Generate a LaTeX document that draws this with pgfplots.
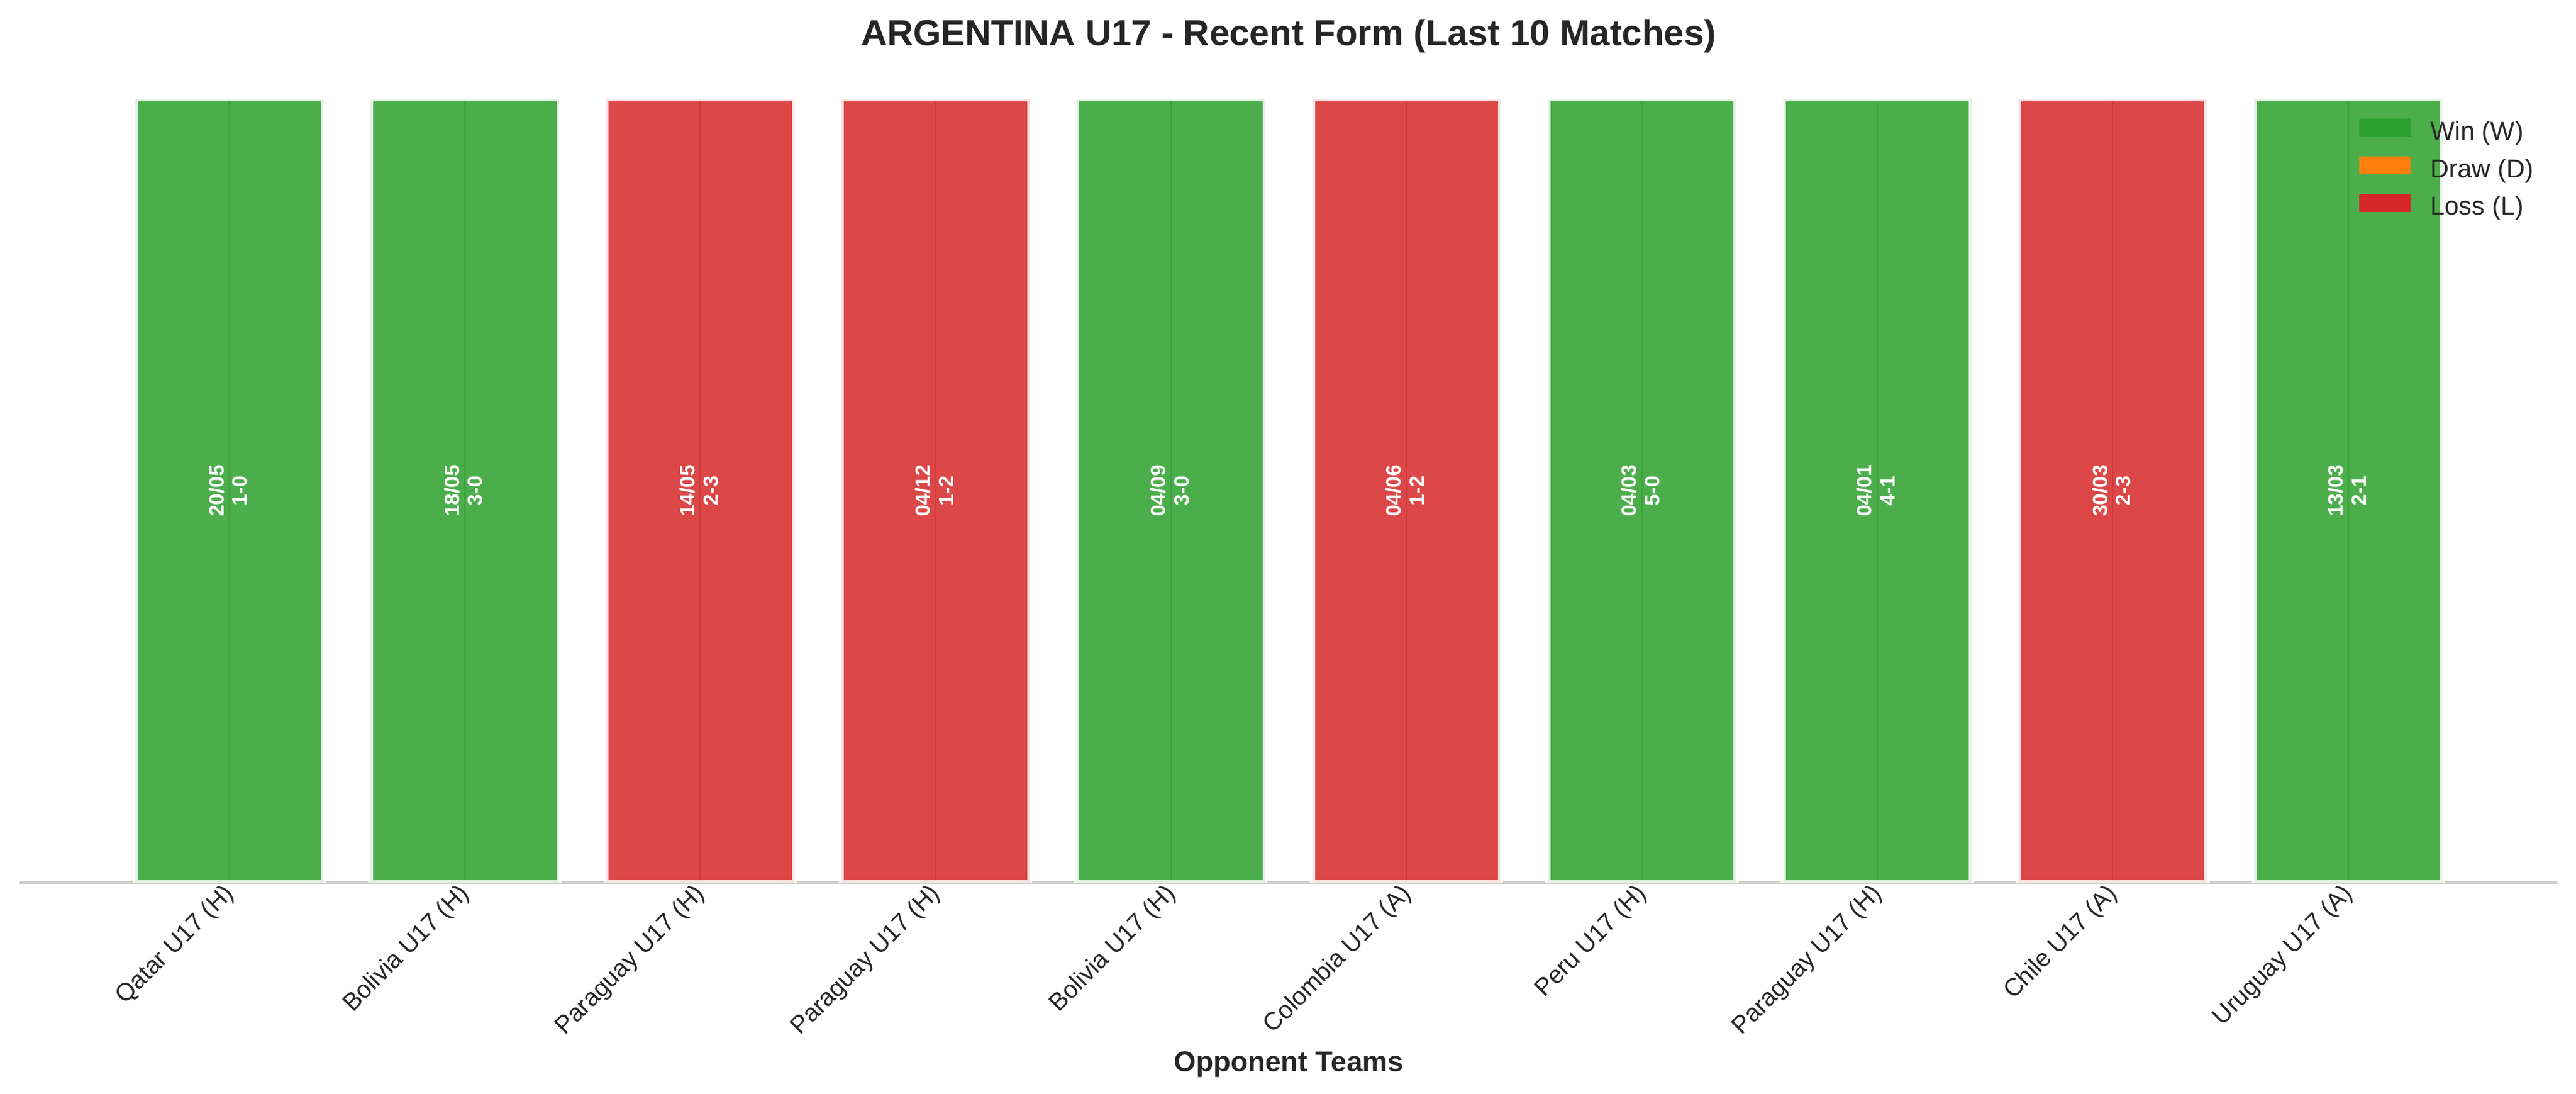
\documentclass[border=0pt]{standalone}
\usepackage{pgfplots}
\pgfplotsset{compat=1.18}
\usepackage{pgfplotstable}
\usepackage{fontspec}
\setmainfont{Liberation Sans}
\definecolor{winc}{HTML}{2CA02C}
\definecolor{drawc}{HTML}{FF7F0E}
\definecolor{lossc}{HTML}{D62728}
\definecolor{txt}{HTML}{262626}
\pgfplotstableread{
x y
0 1
1 1
4 1
6 1
7 1
9 1
}\wins
\pgfplotstableread{
x y
2 1
3 1
5 1
8 1
}\losses
\pgfplotstableread{
x y date score
0 0.5 20/05 1-0
1 0.5 18/05 3-0
2 0.5 14/05 2-3
3 0.5 04/12 1-2
4 0.5 04/09 3-0
5 0.5 04/06 1-2
6 0.5 04/03 5-0
7 0.5 04/01 4-1
8 0.5 30/03 2-3
9 0.5 13/03 2-1
}\labels
\begin{document}
\begin{tikzpicture}
\path[use as bounding box] (-7.7pt,-82.1pt) rectangle (993.1pt,342.7pt);
\begin{axis}[
  at={(0,0)}, anchor=south west,
  scale only axis, width=986pt, height=304.3pt,
  xmin=-0.89, xmax=9.89, ymin=0, ymax=1,
  axis x line*=bottom, axis y line=none,
  x axis line style={-, draw=black!20, line width=0.8pt},
  xtick={0,...,9},
  xticklabels={Qatar U17 (H),Bolivia U17 (H),Paraguay U17 (H),Paraguay U17 (H),Bolivia U17 (H),Colombia U17 (A),Peru U17 (H),Paraguay U17 (H),Chile U17 (A),Uruguay U17 (A)},
  major tick length=0pt,
  xticklabel style={xshift=-2.8pt, yshift=0.4pt, rotate=45, anchor=north east, inner sep=0pt, font=\fontsize{9.6}{11.5}\selectfont, text=txt},
  xmajorgrids, grid style={draw=black!30, line width=0.6pt},
  every axis title shift=0pt,
  title={ARGENTINA U17 - Recent Form (Last 10 Matches)},
  title style={at={(0.5,1)}, anchor=center, yshift=24.4pt, font=\bfseries\fontsize{14}{17}\selectfont, text=txt},
  xlabel={Opponent Teams},
  xlabel style={at={(axis description cs:0.5,0)}, anchor=center, yshift=-70.7pt, font=\bfseries\fontsize{11}{13}\selectfont, text=txt},
  legend image code/.code={\fill[#1, draw=none, overlay] (0pt,-1.6pt) rectangle (20pt,5.4pt); \path[draw=none, fill=none] (0pt,0pt) rectangle (25.8pt,7pt);},
  legend style={at={(rel axis cs:1,1)}, anchor=north west, xshift=-77.4pt, yshift=-5.9pt, draw=none, fill=none, font=\fontsize{10}{12}\selectfont, text=txt, row sep=1.2pt, inner sep=0pt, nodes={inner sep=2pt, text depth=0.15em}},
  legend cell align=left,
]
\addplot[ybar, bar width=0.8, bar shift=0pt, fill=winc, draw=white, line width=2pt, opacity=0.85, forget plot] table[x=x,y=y] {\wins};
\addplot[ybar, bar width=0.8, bar shift=0pt, fill=lossc, draw=white, line width=2pt, opacity=0.85, forget plot] table[x=x,y=y] {\losses};
\addplot[draw=none, mark=none, forget plot,
  point meta=explicit symbolic,
  nodes near coords,
  every node near coord/.append style={xshift=-5.0pt, rotate=90, anchor=center, text=white, inner sep=0pt, font=\bfseries\fontsize{8}{9}\selectfont}
] table[x=x,y=y,meta=date] {\labels};
\addplot[draw=none, mark=none, forget plot,
  point meta=explicit symbolic,
  nodes near coords,
  every node near coord/.append style={xshift=4.1pt, rotate=90, anchor=center, text=white, inner sep=0pt, font=\bfseries\fontsize{8}{9}\selectfont}
] table[x=x,y=y,meta=score] {\labels};
\addlegendimage{fill=winc}
\addlegendentry{Win (W)}
\addlegendimage{fill=drawc}
\addlegendentry{Draw (D)}
\addlegendimage{fill=lossc}
\addlegendentry{Loss (L)}
\end{axis}
\end{tikzpicture}
\end{document}
